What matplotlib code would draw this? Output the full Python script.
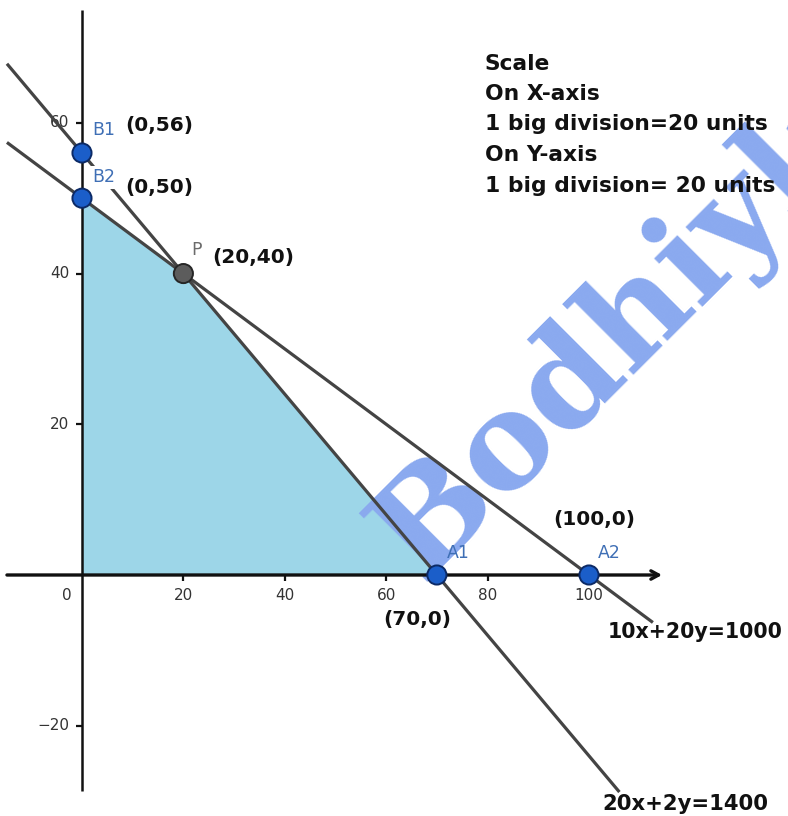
import matplotlib
matplotlib.use('Agg')
import matplotlib.pyplot as plt
from matplotlib.markers import TICKDOWN, TICKLEFT
import numpy as np

W, H, DPI = 788, 816, 100

# constraint lines, drawn through their axis intercepts
line_names = ['10x+20y=1000', '20x+2y=1400']
x_intercepts = [100, 70]
y_intercepts = [50, 56]
line_x_ranges = [(-14.8, 112.6), (-14.8, 106.0)]

# feasible region corners
region_x = [0, 0, 20, 70]
region_y = [0, 50, 40, 0]

# labelled points
point_names = ['B1', 'B2', 'P', 'A1', 'A2']
point_x = [0, 0, 20, 70, 100]
point_y = [56, 50, 40, 0, 0]
point_tags = ['(0,56)', '(0,50)', '(20,40)', '(70,0)', '(100,0)']
point_colors = ['#1b5ec9', '#1b5ec9', '#5c5c5c', '#1b5ec9', '#1b5ec9']
point_edges = ['#0c2a66', '#0c2a66', '#262626', '#0c2a66', '#0c2a66']
name_colors = ['#3f6fb5', '#3f6fb5', '#6b6b6b', '#3f6fb5', '#3f6fb5']
# label offsets (pixels) for the point name and the coordinate tag
name_offsets = [(10, 18), (10, 16), (7.6, 18.6), (10, 17), (9, 17)]
tag_offsets = [(43, 22), (43, 5), (28.6, 10.6), (-54, -50), (-36, 50)]

x_ticks = [20, 40, 60, 80, 100]
y_ticks = [-20, 20, 40, 60]

scale_lines = ['Scale', 'On X-axis', '1 big division=20 units',
               'On Y-axis', '1 big division= 20 units']

fig = plt.figure(figsize=(W / DPI, H / DPI), dpi=DPI)
fig.patch.set_facecolor('white')
ax = fig.add_axes([0, 0, 1, 1])
ax.set_xlim(-16.17, 139.25)
ax.set_ylim(-31.98, 76.3)
ax.axis('off')


def px(x, y):
    """figure-fraction position from pixel position (origin top-left)"""
    return x / W, 1 - y / H


bold = dict(family='DejaVu Sans', weight='bold', color='#111111')

# feasible region
ax.fill(region_x, region_y, color='#9dd6e8', lw=0, zorder=1)

# watermark
ax.text(67.0, -0.89, 'Bodhiyla', rotation=45, rotation_mode='anchor',
        ha='left', va='baseline', fontsize=96, family='DejaVu Serif',
        weight='bold', color='#8aa9ef', zorder=2)

# axes
ax.plot([0, 0], [-28.7, 75.0], color='#111111', lw=1.8, zorder=3,
        solid_capstyle='butt')
ax.annotate('', xy=(114.4, 0), xytext=(-14.8, 0),
            arrowprops=dict(arrowstyle='->,head_length=0.55,head_width=0.3',
                            color='#111111', lw=2.4, shrinkA=0, shrinkB=0),
            zorder=3)

# ticks and tick labels
ax.plot(x_ticks, [0] * len(x_ticks), ls='none', marker=TICKDOWN,
        markersize=4.5, mew=1.6, color='#111111', zorder=3)
ax.plot([0] * len(y_ticks), y_ticks, ls='none', marker=TICKLEFT,
        markersize=4.5, mew=1.6, color='#111111', zorder=3)
for t in x_ticks:
    ax.text(t, -3.32, str(t), ha='center', va='baseline', fontsize=11,
            color='#333333', zorder=3)
ax.text(-2.96, -3.32, '0', ha='center', va='baseline', fontsize=11,
        color='#333333', zorder=3)
for t in y_ticks:
    ax.text(-2.5, t, str(t).replace('-', '\u2212'), ha='right', va='center',
            fontsize=11, color='#333333', zorder=3)

# constraint lines
for xi, yi, (x0, x1) in zip(x_intercepts, y_intercepts, line_x_ranges):
    xs = np.array([x0, x1])
    ys = yi - yi / xi * xs
    ax.plot(xs, ys, color='#444444', lw=2.3, zorder=4,
            solid_capstyle='butt')

# points and labels
ax.scatter(point_x, point_y, s=190, c=point_colors, edgecolors=point_edges,
           linewidths=1.4, zorder=6)
for i, name in enumerate(point_names):
    bbox = None
    if name == 'B2':
        bbox = dict(boxstyle='square,pad=0.15', fc='white', ec='none')
    ax.annotate(name, (point_x[i], point_y[i]), xytext=name_offsets[i],
                textcoords='offset pixels', ha='left', va='baseline',
                fontsize=12.5, color=name_colors[i], zorder=5, bbox=bbox)
    ax.annotate(point_tags[i], (point_x[i], point_y[i]),
                xytext=tag_offsets[i], textcoords='offset pixels',
                ha='left', va='baseline', fontsize=14.5, zorder=7, **bold)

# equation labels
fig.text(*px(608, 638), line_names[0], ha='left', va='baseline',
         fontsize=14.8, zorder=7, **bold)
fig.text(*px(602, 810), line_names[1], ha='left', va='baseline',
         fontsize=15.2, zorder=7, **bold)

# scale note
for line, base in zip(scale_lines, [70, 100, 130, 161, 192]):
    fig.text(*px(485, base), line, ha='left', va='baseline', fontsize=15.7,
             zorder=7, **bold)

fig.savefig('out.png', dpi=DPI, facecolor='white')
